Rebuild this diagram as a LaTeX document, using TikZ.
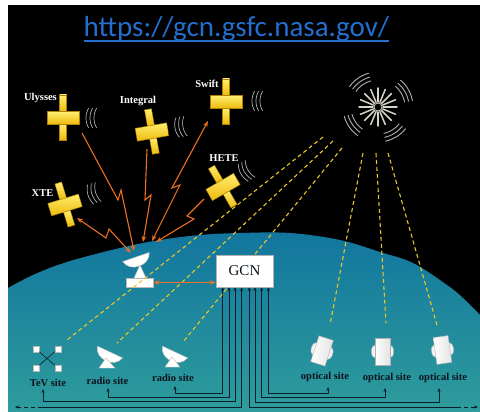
\documentclass[tikz,border=0pt]{standalone}
\usepackage{fontspec}
\setmainfont{Liberation Serif}
\newfontfamily\urlfont{Carlito}
\usetikzlibrary{arrows.meta,calc}

\definecolor{seatop}{RGB}{18,118,158}
\definecolor{seabot}{RGB}{46,156,156}
\definecolor{urlblue}{RGB}{36,110,205}
\definecolor{bolt}{RGB}{236,112,32}
\definecolor{ray}{RGB}{232,198,44}
\definecolor{satlight}{RGB}{255,238,110}
\definecolor{satdark}{RGB}{238,186,12}
\definecolor{satedge}{RGB}{176,128,0}
\definecolor{wave}{RGB}{175,175,175}
\definecolor{spark}{RGB}{214,212,196}
\definecolor{wire}{RGB}{12,28,40}
\definecolor{ink}{RGB}{12,20,30}

\begin{document}
\begin{tikzpicture}[
  x=1pt, y=-1pt,
  satpart/.style={top color=satlight, bottom color=satdark, draw=satedge, line width=0.4pt},
  satellite/.pic={
    \path[satpart] (-3.5,-23) rectangle (3.5,-6.5);
    \path[satpart] (-3.5,6.5) rectangle (3.5,22);
    \path[satpart] (-16,-6.5) rectangle (16,6.5);
  },
  waves/.pic={
    \foreach \k in {0,4,8}
      \draw[wave, line width=0.7pt]
        plot[domain=150:210, samples=13] ({\k+20+20*cos(\x)}, {20*sin(\x)});
  },
  dishbody/.style={fill=white, draw=gray!55, line width=0.4pt},
  dish/.pic={
    \path[dishbody] (-14,0) .. controls (-11,13) and (11,13) .. (14,0) -- cycle;
  },
  scopetube/.style={left color=white, right color=gray!22, draw=gray!60, line width=0.4pt},
  scopebump/.style={fill=gray!10, draw=gray!60, line width=0.4pt},
  optical/.pic={
    \path[scopebump] (-7.5,0) ellipse [x radius=3.6, y radius=6.5];
    \path[scopebump] (7.5,0) ellipse [x radius=3.6, y radius=6.5];
    \path[scopetube] (-7.5,-13.5) rectangle (7.5,13.5);
  },
  satlabel/.style={text=white, font=\bfseries\fontsize{10.5}{12}\selectfont, inner sep=0pt},
  sitelabel/.style={text=ink, font=\bfseries\fontsize{10.5}{12}\selectfont, inner sep=0pt},
  boltline/.style={draw=bolt, line width=1.1pt, line join=miter},
  boltarrow/.style={boltline, -{Stealth[length=6pt,width=4.5pt]}},
  boltboth/.style={boltline, {Stealth[length=6pt,width=4.5pt]}-{Stealth[length=6pt,width=4.5pt]}},
  rayline/.style={draw=ray, line width=1.1pt, dash pattern=on 4pt off 3pt},
  wireline/.style={draw=wire, line width=0.8pt},
  wireboth/.style={wireline, {Stealth[length=4pt,width=3pt]}-{Stealth[length=4pt,width=3pt]}},
  gcnbox/.style={fill=white, draw=gray!60, line width=0.5pt, minimum width=57pt,
    minimum height=32pt, inner sep=0pt, text=ink, font=\fontsize{15}{16}\selectfont},
  basebox/.style={fill=white, draw=gray!55, line width=0.4pt, minimum width=27pt,
    minimum height=9pt, inner sep=0pt},
  tevsq/.style={fill=white, draw=gray!55, line width=0.4pt, minimum size=6pt, inner sep=0pt}
]
\useasboundingbox (0,0) rectangle (480,412);
\fill[white] (0,0) rectangle (480,412);
\fill[black] (8,5) rectangle (480,412);

% the Earth
\fill[top color=seatop, bottom color=seabot]
  plot[smooth, tension=0.6] coordinates {(8,288) (33,275) (67,262) (120,248) (160,240)
    (200,235) (240,233) (290,233) (340,240) (380,252) (413,263) (447,285) (463,298) (480,315)}
  -- (480,412) -- (8,412) -- cycle;

% address
\node[anchor=base, text=urlblue, font=\urlfont\fontsize{29}{32}\selectfont, inner sep=0pt]
  (url) at (236.5,36.5) {https://gcn.gsfc.nasa.gov/};
\draw[urlblue, line width=1.3pt] ($(url.base west)+(0,4.5)$) -- ($(url.base east)+(0,4.5)$);

% the burst
\coordinate (grb) at (378,107);
\foreach \a/\lo/\hi in {125/105/145, 30/10/50, 215/195/235, 302/282/322}
  \foreach \r in {27,31,35}
    \draw[wave, line width=0.9pt]
      plot[domain=\lo:\hi, samples=15] ({378+\r*cos(\x)}, {107-\r*sin(\x)});
\foreach \t in {0,22.5,...,337.5}
  \draw[spark, line width=1.5pt, line cap=round]
    ({378+5*cos(\t)}, {107-5*sin(\t)}) -- ({378+19*cos(\t)}, {107-19*sin(\t)});
\fill[black] (grb) circle (4);
\draw[spark, line width=0.8pt] (grb) circle (4);

% satellites
\pic at (63,118) {satellite};
\pic[rotate=10] at (152,132) {satellite};
\pic at (226,102) {satellite};
\pic[rotate=30] at (223,187) {satellite};
\pic[rotate=17] at (65,205) {satellite};

\pic at (86,118) {waves};
\pic[rotate=10] at (175,128) {waves};
\pic at (252,101) {waves};
\pic[rotate=30] at (241,174) {waves};
\pic[rotate=17] at (88,195) {waves};

\node[satlabel] (lblU) at (40.5,98) {Ulysses};
\node[satlabel] (lblI) at (138,101) {Integral};
\node[satlabel] (lblS) at (207,84) {Swift};
\node[satlabel] (lblH) at (224,158) {HETE};
\node[satlabel] (lblX) at (42.5,193) {XTE};

% ground station
\pic[rotate=19] at (136,257) {dish};
\path[dishbody] (140,265) -- (134,278) -- (146,278) -- cycle;
\node[basebox] (base) at (139.5,282.5) {};

% links between satellites and the ground station
\coordinate (uA) at (82,133);  \coordinate (uB) at (134,251);
\coordinate (iA) at (147,149); \coordinate (iB) at (143,242);
\coordinate (sA) at (208,121); \coordinate (sB) at (152,241);
\coordinate (hA) at (204,199); \coordinate (hB) at (156,242);
\coordinate (xA) at (77,218);  \coordinate (xB) at (131,253);
\draw[boltarrow] (uA) -- (118,200) -- (121,190) -- (uB);
\draw[boltarrow] (iA) -- (145,200) -- (151,195) -- (iB);
\draw[boltboth] (sB) -- (180,185) -- (172,188) -- (sA);
\draw[boltarrow] (hA) -- (187,216) -- (194,219) -- (hB);
\draw[boltboth] (xB) -- (109,229) -- (106,238) -- (xA);

% observing sites
\node[tevsq] (q1) at (36,349) {};
\node[tevsq] (q2) at (58,349) {};
\node[tevsq] (q3) at (36,368) {};
\node[tevsq] (q4) at (58,368) {};
\draw[wire, line width=0.6pt] (q1) -- (q4);
\draw[wire, line width=0.6pt] (q2) -- (q3);

\pic[rotate=-25] at (110,352) {dish};
\path[dishbody] (106,358) -- (99,368) -- (115,368) -- cycle;
\pic[rotate=-25] at (175,352) {dish};
\path[dishbody] (172,357) -- (165,367) -- (180,367) -- cycle;

\pic[rotate=-18] at (322,351) {optical};
\pic at (382.5,351.5) {optical};
\pic[rotate=8] at (442.5,350) {optical};

\node[sitelabel] (tevL) at (48,383) {TeV site};
\node[sitelabel] (rad1L) at (107.5,381) {radio site};
\node[sitelabel] (rad2L) at (173,378) {radio site};
\node[sitelabel] (opt1L) at (325,377) {optical site};
\node[sitelabel] (opt2L) at (387,378) {optical site};
\node[sitelabel] (opt3L) at (443,378) {optical site};

% GCN and its wiring
\coordinate (gcnsw) at (216,287);
\coordinate (tevT) at (43,389);
\coordinate (rad1T) at (108,388);
\coordinate (rad2T) at (175,386);
\coordinate (opt1T) at (328,387);
\coordinate (opt2T) at (385,388);
\coordinate (opt3T) at (439,388);
\coordinate (westD) at (42,407);
\coordinate (westE) at (15,407);
\coordinate (eastD) at (457,407);
\coordinate (eastE) at (478,407);

\draw[wireboth] (rad2T) |- ($(gcnsw)+(6.7,106)$) -- ($(gcnsw)+(6.7,0)$);
\draw[wireboth] (rad1T) |- ($(gcnsw)+(13,110)$) -- ($(gcnsw)+(13,0)$);
\draw[wireboth] (tevT) |- ($(gcnsw)+(19,114)$) -- ($(gcnsw)+(19,0)$);
\draw[wireline, {Stealth[length=4pt,width=3pt]}-] ($(gcnsw)+(25.7,0)$) -- ($(gcnsw)+(25.7,120)$) -- (westD);
\draw[wireline, -{Stealth[length=4pt,width=3pt]}, dash pattern=on 4pt off 3pt] (westD) -- (westE);
\draw[wireline, {Stealth[length=4pt,width=3pt]}-] ($(gcnsw)+(33.3,0)$) -- ($(gcnsw)+(33.3,120)$) -- (eastD);
\draw[wireline, -{Stealth[length=4pt,width=3pt]}, dash pattern=on 4pt off 3pt] (eastD) -- (eastE);
\draw[wireboth] (opt3T) |- ($(gcnsw)+(39,115)$) -- ($(gcnsw)+(39,0)$);
\draw[wireboth] (opt2T) |- ($(gcnsw)+(45.7,110)$) -- ($(gcnsw)+(45.7,0)$);
\draw[wireboth] (opt1T) |- ($(gcnsw)+(52.3,106)$) -- ($(gcnsw)+(52.3,0)$);

% light from the burst to the sites
\coordinate (g1) at (323,137); \coordinate (g2) at (333,141); \coordinate (g3) at (342,148);
\coordinate (g4) at (363,153); \coordinate (g5) at (376,153); \coordinate (g6) at (388,153);
\coordinate (tevR) at (67,340); \coordinate (rad1R) at (117,343); \coordinate (rad2R) at (183,342);
\coordinate (opt1R) at (330,325); \coordinate (opt2R) at (386,323); \coordinate (opt3R) at (437,325);
\draw[rayline] (g1) -- (tevR);
\draw[rayline] (g2) -- (rad1R);
\draw[rayline] (g3) -- (rad2R);
\draw[rayline] (g4) -- (opt1R);
\draw[rayline] (g5) -- (opt2R);
\draw[rayline] (g6) -- (opt3R);

\node[gcnbox] (gcn) at (244.5,271) {GCN};
\draw[boltboth, line width=0.9pt] (base.east) -- (gcn.west |- base.east);
\end{tikzpicture}
\end{document}
